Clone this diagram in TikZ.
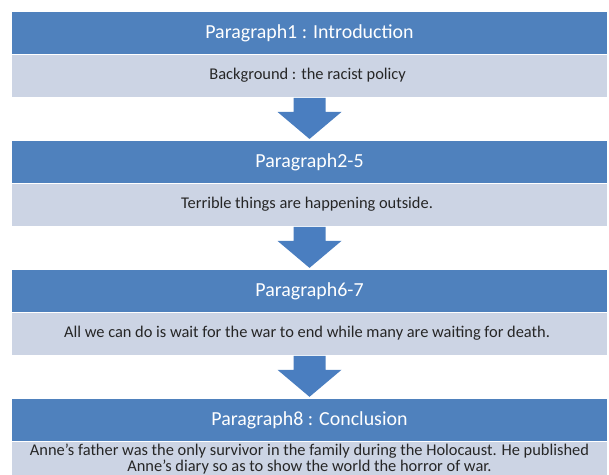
\documentclass[tikz,border=0pt]{standalone}
\usepackage{fontspec}
\setmainfont{Carlito}
\usetikzlibrary{positioning}
\usetikzlibrary{calc}
\definecolor{headblue}{HTML}{4F81BD}
\definecolor{bodyblue}{HTML}{CCD4E4}
\definecolor{arrowblue}{HTML}{4A7EC0}
\tikzstyle{every picture}=[node distance=0pt]
\tikzstyle{band}=[rectangle, inner sep=0pt, minimum width=17.85cm, anchor=north]
\tikzstyle{head}=[band, fill=headblue, text=white, minimum height=1.26cm,
                  font=\fontsize{17}{20}\selectfont]
\tikzstyle{body}=[band, fill=bodyblue, text=black!85, minimum height=1.26cm,
                  font=\fontsize{14}{13}\selectfont, align=center]
\tikzstyle{downarrow}=[fill=arrowblue]

\begin{document}
\begin{tikzpicture}
\useasboundingbox (0,0) rectangle (18.27,-14.22);

\node[head] at (9.285,-0.36) (Para1) { Paragraph1 : Introduction };
\node[body, below=of Para1] (Para1Text) { Background : the racist policy };

\node[head, below=1.32cm of Para1Text] (Para2) { Paragraph2-5 };
\node[body, below=of Para2] (Para2Text) { Terrible things are happening outside. };

\node[head, below=1.32cm of Para2Text] (Para3) { Paragraph6-7 };
\node[body, below=of Para3] (Para3Text)
  { All we can do is wait for the war to end while many are waiting for death. };

\node[head, below=1.32cm of Para3Text] (Para4) { Paragraph8 : Conclusion };
\node[body, below=of Para4, minimum height=1.05cm] (Para4Text)
  { Anne's father was the only survivor in the family during the Holocaust. He published\\
    Anne's diary so as to show the world the horror of war. };

% block arrows between the sections
\fill[downarrow] ($(Para1Text.south)+(-0.48,-0.03)$) -- ++(0.96,0) -- ++(0,-0.42) -- ++(0.48,0)
  -- ($(Para2.north)+(0,0.06)$) -- ($(Para1Text.south)+(-0.96,-0.45)$) -- ++(0.48,0) -- cycle;
\fill[downarrow] ($(Para2Text.south)+(-0.48,-0.03)$) -- ++(0.96,0) -- ++(0,-0.42) -- ++(0.48,0)
  -- ($(Para3.north)+(0,0.06)$) -- ($(Para2Text.south)+(-0.96,-0.45)$) -- ++(0.48,0) -- cycle;
\fill[downarrow] ($(Para3Text.south)+(-0.48,-0.03)$) -- ++(0.96,0) -- ++(0,-0.42) -- ++(0.48,0)
  -- ($(Para4.north)+(0,0.06)$) -- ($(Para3Text.south)+(-0.96,-0.45)$) -- ++(0.48,0) -- cycle;

\end{tikzpicture}
\end{document}
